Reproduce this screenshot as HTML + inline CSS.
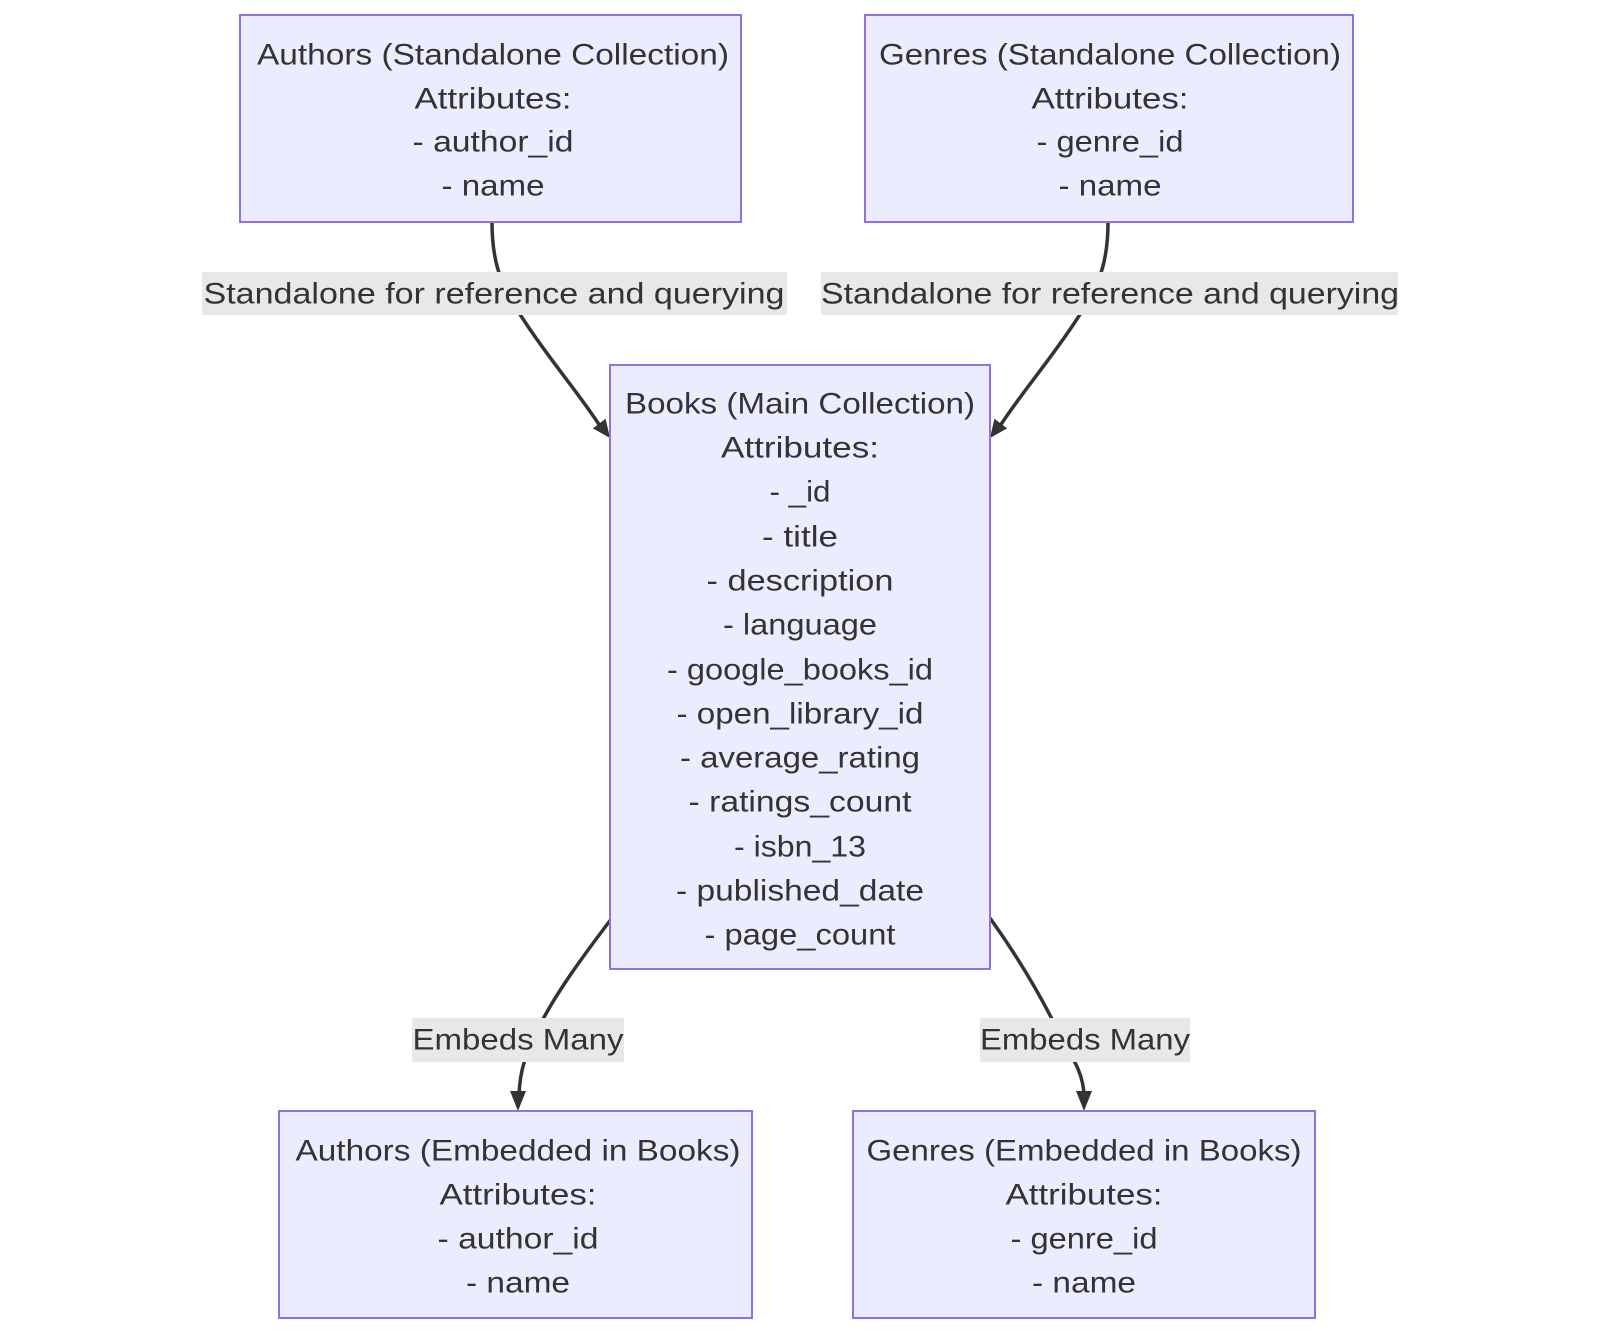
<!DOCTYPE html>
<html><head><meta charset="utf-8"><style>
html,body{margin:0;padding:0;background:#fff;}
svg{display:block;}
text{font-family:"Liberation Sans",sans-serif;font-size:30px;fill:#333;text-anchor:middle;dominant-baseline:central;}
</style></head><body>
<svg width="1600" height="1334" viewBox="0 0 1600 1334" xmlns="http://www.w3.org/2000/svg">
<g fill="none" stroke="#333" stroke-width="3.5">
<path d="M492,222 C492,262 500,285 525,322 C550,360 580,395 600,426"/>
<path d="M1108,222 C1108,262 1100,285 1075,322 C1050,360 1020,395 1000,426"/>
<path d="M612,918 C580,960 555,995 540,1025 C525,1055 520,1070 519,1095"/>
<path d="M990,918 C1020,960 1040,995 1055,1025 C1070,1055 1083,1070 1084,1095"/>
</g>
<g fill="#333">
<polygon points="610,438 605.6,418.8 592.8,428.4"/>
<polygon points="990,438 994.4,418.8 1007.2,428.4"/>
<polygon points="518,1111 510,1091 526,1091"/>
<polygon points="1084,1111 1076,1091 1092,1091"/>
</g>
<g fill="#e8e8e8">
<rect x="202" y="272" width="585" height="43"/>
<rect x="821" y="272" width="577" height="43"/>
<rect x="412" y="1018" width="212" height="44"/>
<rect x="980" y="1018" width="210" height="44"/>
</g>
<text x="494" y="294" textLength="581" lengthAdjust="spacingAndGlyphs">Standalone for reference and querying</text>
<text x="1110" y="294" textLength="578" lengthAdjust="spacingAndGlyphs">Standalone for reference and querying</text>
<text x="518" y="1040" textLength="211" lengthAdjust="spacingAndGlyphs">Embeds Many</text>
<text x="1085" y="1040" textLength="210" lengthAdjust="spacingAndGlyphs">Embeds Many</text>
<g fill="#ECECFF" stroke="#9370DB" stroke-width="2">
<rect x="240" y="15" width="501" height="207"/>
<rect x="865" y="15" width="488" height="207"/>
<rect x="610" y="365" width="380" height="604"/>
<rect x="279" y="1111" width="473" height="207"/>
<rect x="853" y="1111" width="462" height="207"/>
</g>
<g lengthAdjust="spacingAndGlyphs">
<text x="493" y="55" textLength="472" lengthAdjust="spacingAndGlyphs">Authors (Standalone Collection)</text>
<text x="493" y="99" textLength="157" lengthAdjust="spacingAndGlyphs">Attributes:</text>
<text x="493" y="142" textLength="161" lengthAdjust="spacingAndGlyphs">- author_id</text>
<text x="493" y="186" textLength="103" lengthAdjust="spacingAndGlyphs">- name</text>
<text x="1110" y="55" textLength="462" lengthAdjust="spacingAndGlyphs">Genres (Standalone Collection)</text>
<text x="1110" y="99" textLength="157" lengthAdjust="spacingAndGlyphs">Attributes:</text>
<text x="1110" y="142" textLength="147" lengthAdjust="spacingAndGlyphs">- genre_id</text>
<text x="1110" y="186" textLength="103" lengthAdjust="spacingAndGlyphs">- name</text>
<text x="800" y="404" textLength="350" lengthAdjust="spacingAndGlyphs">Books (Main Collection)</text>
<text x="800" y="448" textLength="158" lengthAdjust="spacingAndGlyphs">Attributes:</text>
<text x="800" y="492" textLength="61" lengthAdjust="spacingAndGlyphs">- _id</text>
<text x="800" y="537" textLength="76" lengthAdjust="spacingAndGlyphs">- title</text>
<text x="800" y="581" textLength="187" lengthAdjust="spacingAndGlyphs">- description</text>
<text x="800" y="625" textLength="154" lengthAdjust="spacingAndGlyphs">- language</text>
<text x="800" y="670" textLength="266" lengthAdjust="spacingAndGlyphs">- google_books_id</text>
<text x="800" y="714" textLength="247" lengthAdjust="spacingAndGlyphs">- open_library_id</text>
<text x="800" y="758" textLength="240" lengthAdjust="spacingAndGlyphs">- average_rating</text>
<text x="800" y="802" textLength="223" lengthAdjust="spacingAndGlyphs">- ratings_count</text>
<text x="800" y="847" textLength="132" lengthAdjust="spacingAndGlyphs">- isbn_13</text>
<text x="800" y="891" textLength="248" lengthAdjust="spacingAndGlyphs">- published_date</text>
<text x="800" y="935" textLength="191" lengthAdjust="spacingAndGlyphs">- page_count</text>
<text x="518" y="1151" textLength="445" lengthAdjust="spacingAndGlyphs">Authors (Embedded in Books)</text>
<text x="518" y="1195" textLength="157" lengthAdjust="spacingAndGlyphs">Attributes:</text>
<text x="518" y="1239" textLength="161" lengthAdjust="spacingAndGlyphs">- author_id</text>
<text x="518" y="1283" textLength="104" lengthAdjust="spacingAndGlyphs">- name</text>
<text x="1084" y="1151" textLength="435" lengthAdjust="spacingAndGlyphs">Genres (Embedded in Books)</text>
<text x="1084" y="1195" textLength="157" lengthAdjust="spacingAndGlyphs">Attributes:</text>
<text x="1084" y="1239" textLength="147" lengthAdjust="spacingAndGlyphs">- genre_id</text>
<text x="1084" y="1283" textLength="104" lengthAdjust="spacingAndGlyphs">- name</text>
</g>
</svg>
</body></html>
